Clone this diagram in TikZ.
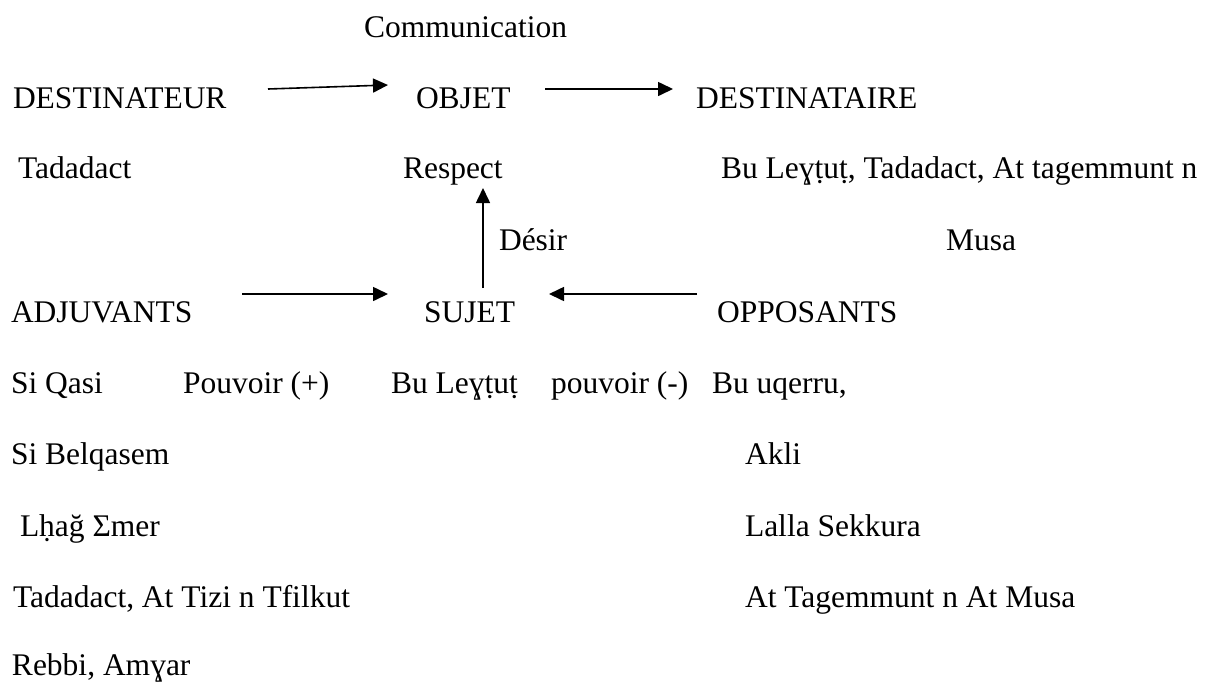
\documentclass[tikz,border=0pt]{standalone}
\usepackage{fontspec}
\newfontfamily\tnr{Liberation Serif}
\usetikzlibrary{arrows.meta}
\begin{document}
\begin{tikzpicture}[x=1pt,y=-1pt,
  lbl/.style={anchor=base west,inner sep=0pt,outer sep=0pt,font=\tnr\fontsize{31.5}{38}\selectfont},
  arr/.style={-{Triangle[length=15pt,width=14pt]},line width=1.6pt}]
\useasboundingbox (0,0) rectangle (1217,681);
% row 0
\node[lbl] (comm) at (364,37) {Communication};
% row 1
\node[lbl] (dtr) at (13,108) {DESTINATEUR};
\node[lbl] (obj) at (416,108) {OBJET};
\node[lbl] (dte) at (696,108) {DESTINATAIRE};
% row 2
\node[lbl] (tad) at (18,178) {Tadadact};
\node[lbl] (resp) at (403,178) {Respect};
\node[lbl] (bul) at (721,178) {Bu Leɣṭuṭ, Tadadact, At tagemmunt n};
% row 3
\node[lbl] (des) at (499,250) {Désir};
\node[lbl] (musa) at (946,250) {Musa};
% row 4
\node[lbl] (adj) at (11,322) {ADJUVANTS};
\node[lbl] (suj) at (424,322) {SUJET};
\node[lbl] (opp) at (717,322) {OPPOSANTS};
% row 5
\node[lbl] (sq) at (11,393) {Si Qasi};
\node[lbl] (pp) at (183,393) {Pouvoir (+)};
\node[lbl] (bl) at (391,393) {Bu Leɣṭuṭ};
\node[lbl] (pm) at (551,393) {pouvoir (-)};
\node[lbl] (buq) at (712,393) {Bu uqerru,};
% row 6
\node[lbl] (sb) at (11,464) {Si Belqasem};
\node[lbl] (akli) at (745,464) {Akli};
% row 7
\node[lbl] (lh) at (20,536) {Lḥağ Σmer};
\node[lbl] (ls) at (745,536) {Lalla Sekkura};
% row 8
\node[lbl] (tt) at (13,607) {Tadadact, At Tizi n Tfilkut};
\node[lbl] (atm) at (745,607) {At Tagemmunt n At Musa};
% row 9
\node[lbl] (ra) at (12,675) {Rebbi, Amɣar};
% arrows
\coordinate (a1s) at (268,89); \coordinate (a1e) at (388,85);
\draw[arr] (a1s) -- (a1e);
\coordinate (a2s) at (545,89); \coordinate (a2e) at (673,89);
\draw[arr] (a2s) -- (a2e);
\coordinate (a3s) at (483,288); \coordinate (a3e) at (483,188);
\draw[arr] (a3s) -- (a3e);
\coordinate (a4s) at (242,294); \coordinate (a4e) at (388,294);
\draw[arr] (a4s) -- (a4e);
\coordinate (a5s) at (697,294); \coordinate (a5e) at (549,294);
\draw[arr] (a5s) -- (a5e);
\end{tikzpicture}
\end{document}
